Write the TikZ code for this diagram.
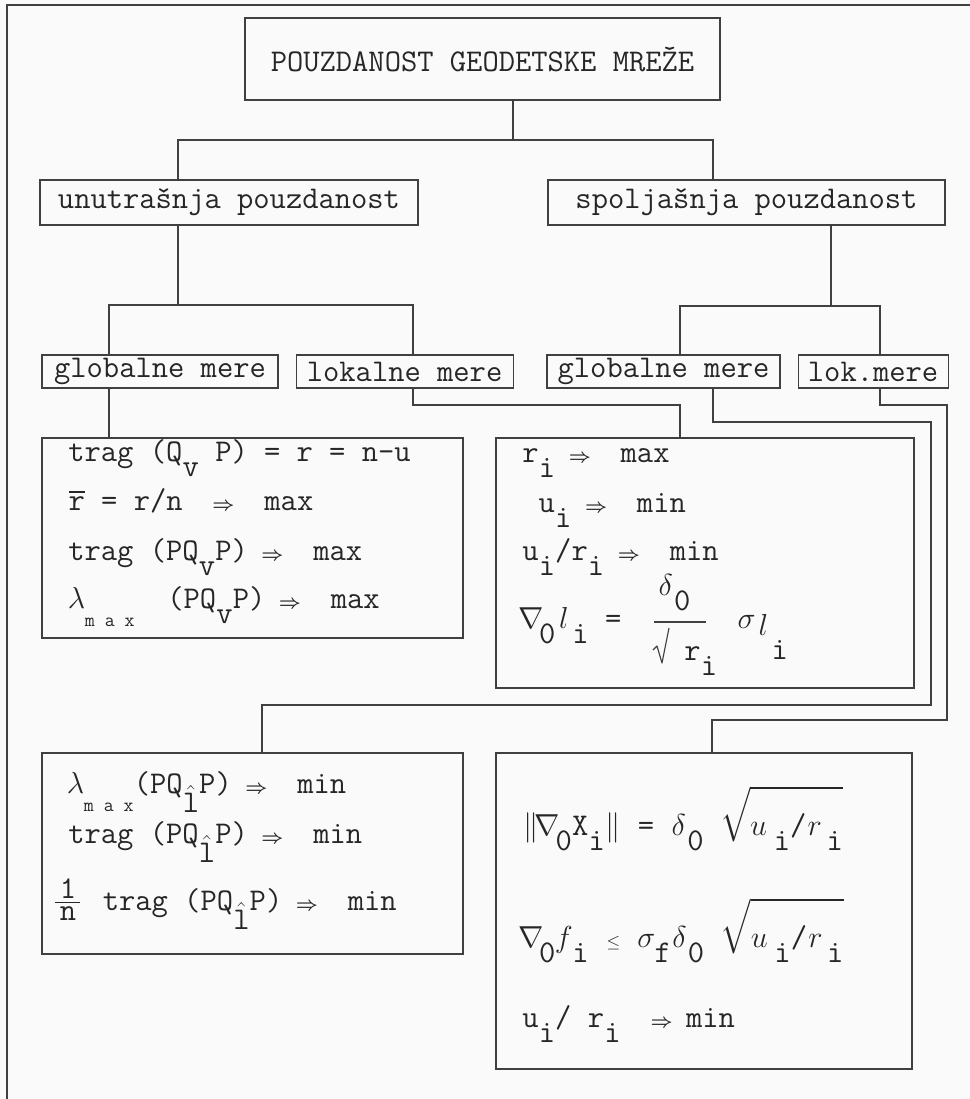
\documentclass[tikz,border=0pt]{standalone}
\usepackage{amsmath}
\usepackage{tikz}
\usetikzlibrary{positioning}

% typewriter set: one cell = 0.525em of the 18pt mono font
\newcommand{\boxfont}{\fontsize{18}{22}\selectfont\ttfamily}
\newlength{\cw}\setlength{\cw}{9.45pt}
\newcommand{\cell}[1]{\makebox[\cw]{#1}}
\newcommand{\dn}[1]{\cell{\raisebox{-0.5em}{#1}}}
\newcommand{\arr}{\cell{\fontsize{11}{11}\selectfont$\boldsymbol{\Rightarrow}$}}
\newcommand{\mx}{\makebox[3\cw][l]{\raisebox{-0.6em}[0pt][0pt]{\fontsize{11}{11}\selectfont m a x}}}
\newcommand{\lhat}{\cell{\raisebox{-0.62em}{$\hat{\mbox{l}}$}}}
\newcommand{\rt}{$\sqrt{\smash[b]{\mbox{\cell{$u$}\hspace{0.4\cw}\dn{i}/\cell{$r$}\hspace{0.2\cw}\dn{i}}}\rule{0pt}{1.2em}}$}

\begin{document}
\begin{tikzpicture}[x=0.02cm, y=-0.02cm, color=black!85,
    box/.style={draw=black!75, rectangle, inner sep=0pt, line width=0.65pt, font=\boxfont},
    line/.style={anchor=base west, inner sep=0pt, font=\boxfont},
    link/.style={draw=black!75, line width=0.65pt}
]
\fill[black!2] (0,0) rectangle (970,1099);
\useasboundingbox (0,0) rectangle (970,1099);

% page frame
\draw[link] (7,1099) -- (7,5) -- (970,5);

% headings
\node[box, minimum width=9.5cm, minimum height=1.64cm] (title) at (482.5,59) {POUZDANOST GEODETSKE MRE\v{Z}E};
\node[box, minimum width=7.56cm, minimum height=0.9cm] (unut) at (229,202.5) {unutra\v{s}nja pouzdanost};
\node[box, minimum width=7.94cm, minimum height=0.9cm] (spolj) at (746.5,202.5) {spolja\v{s}nja pouzdanost};

\node[box, minimum width=4.72cm, minimum height=0.66cm] (globL) at (160,371.5) {globalne mere};
\node[box, minimum width=4.34cm, minimum height=0.66cm, right=0.34cm of globL] (lokL) {lokalne mere};
\node[box, minimum width=4.66cm, minimum height=0.66cm] (globR) at (663.5,371.5) {globalne mere};
\node[box, minimum width=3.0cm, minimum height=0.66cm, right=0.34cm of globR] (lokR) {lok.mere};

% formula boxes
\node[box, minimum width=8.42cm, minimum height=4.0cm] (boxA) at (252.5,538) {};
\node[box, minimum width=8.36cm, minimum height=5.0cm] (boxB) at (705,563) {};
\node[box, minimum width=8.42cm, minimum height=4.02cm] (boxC) at (252.5,853.5) {};
\node[box, minimum width=8.32cm, minimum height=6.32cm] (boxD) at (704,911) {};

% internal, global
\node[line] (a1) at (68,461) {trag (Q\dn{v} P) = r = n-u};
\node[line] (a2) at (68,510) {\cell{$\overline{\mbox{r}}$} = r/n~~\arr{}~~max};
\node[line] (a3) at (68,560) {trag (PQ\dn{v}P) \arr{}~~max};
\node[line] (a4) at (68,608) {\cell{$\lambda$}\mx~~(PQ\dn{v}P) \arr{}~~max};

% internal, local
\node[line] (b1) at (522,462) {r\dn{i} \arr{}~~max};
\node[line] (b2) at (522,512) {~u\dn{i} \arr{}~~min};
\node[line] (b3) at (522,560) {u\dn{i}/r\dn{i} \arr{}~~min};
\node[line] (b4) at (522,628) {\cell{$\nabla$}\dn{0}\cell{$l$}\dn{i} =};
\node[line] (b4num) at (657,595) {\cell{$\delta$}\dn{0}};
\node[line] (b4den) at (684,660) {r\dn{i}};
\node[line] (b4sig) at (738,628) {\cell{$\sigma$}\cell{\raisebox{-0.25em}{$l$}}\cell{\raisebox{-1em}{i}}};
% fraction bar and root sign
\draw[link] (654,622) -- (706,622);
\draw[link, line join=round] (653,650) -- (657,646) -- (662,663) -- (669,628);

% external, global
\node[line] (c1) at (67,793) {\cell{$\lambda$}\mx(PQ\lhat P) \arr{}~~min};
\node[line] (c2) at (68,843) {trag (PQ\lhat P) \arr{}~~min};
\node[line] (c3) at (53,910) {\makebox[2\cw][l]{$\genfrac{}{}{0.6pt}{1}{\makebox[1.5\cw]{1}}{\makebox[1.5\cw]{n}}$} trag (PQ\lhat P) \arr{}~~min};

% external, local
\node[line] (d1) at (522,835) {\cell{$\|$}\cell{$\nabla$}\dn{0}X\dn{i}\cell{$\|$} = \cell{$\delta$}\dn{0} \rt};
\node[line] (d2) at (522,947) {\cell{$\nabla$}\dn{0}\cell{$f$}\dn{i} \cell{\fontsize{10}{10}\selectfont$\le$} \cell{$\sigma$}\dn{f}\cell{$\delta$}\dn{0} \rt};
\node[line] (d3) at (522,1027) {u\dn{i}/ r\dn{i}~~\arr{} min};

% branch points
\coordinate (t0) at (513,140);
\coordinate (t1) at (178,140);
\coordinate (t2) at (713,140);
\coordinate (u0) at (178,305);
\coordinate (u1) at (109,305);
\coordinate (u2) at (413,305);
\coordinate (s0) at (831,306);
\coordinate (s1) at (680,306);
\coordinate (s2) at (880,306);
\coordinate (k1) at (680,405);
\coordinate (g1) at (931,422);
\coordinate (g2) at (262,705);
\coordinate (m1) at (947,405);
\coordinate (m2) at (712,720);

% tree
\draw[link] (title.south -| t0) -- (t0);
\draw[link] (unut.north -| t1) -- (t1) -- (t2) -- (spolj.north -| t2);
\draw[link] (unut.south -| u0) -- (u0);
\draw[link] (globL.north -| u1) -- (u1) -- (u2) -- (lokL.north -| u2);
\draw[link] (spolj.south -| s0) -- (s0);
\draw[link] (globR.north -| s1) -- (s1) -- (s2) -- (lokR.north -| s2);

% measures to formula boxes
\draw[link] (globL.south -| u1) -- (boxA.north -| u1);
\draw[link] (lokL.south -| u2) |- (k1) -- (boxB.north -| k1);
\draw[link] (globR.south -| t2) |- (g1) |- (g2) -- (boxC.north -| g2);
\draw[link] (lokR.south -| s2) |- (m1) |- (m2) -- (boxD.north -| m2);

\end{tikzpicture}
\end{document}
